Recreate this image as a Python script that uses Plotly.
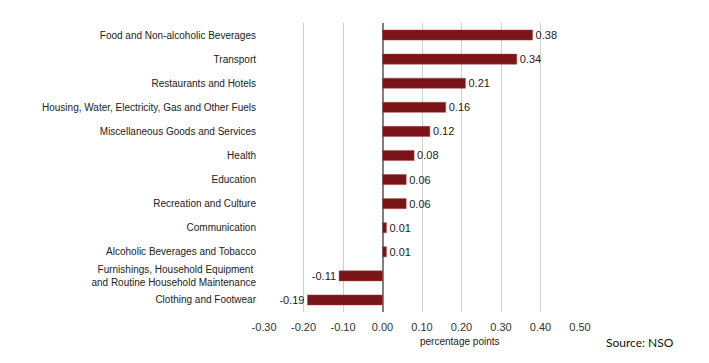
import plotly.graph_objects as go

categories = [
    "Food and Non-alcoholic Beverages",
    "Transport",
    "Restaurants and Hotels",
    "Housing, Water, Electricity, Gas and Other Fuels",
    "Miscellaneous Goods and Services",
    "Health",
    "Education",
    "Recreation and Culture",
    "Communication",
    "Alcoholic Beverages and Tobacco",
    "Furnishings, Household Equipment <br>and Routine Household Maintenance",
    "Clothing and Footwear",
]
values = [0.38, 0.34, 0.21, 0.16, 0.12, 0.08, 0.06, 0.06, 0.01, 0.01, -0.11, -0.19]
tick_vals = [-0.30, -0.20, -0.10, 0.00, 0.10, 0.20, 0.30, 0.40, 0.50]
tick_text = ["-0.30", "-0.20", "-0.10", "0.00", "0.10", "0.20", "0.30", "0.40", "0.50"]
labels = [f"{v:.2f}" for v in values]

FONT = "Liberation Sans"
L, R, T, B = 256, 129, 15, 51
W, H = 701, 355
PW, PH = W - L - R, H - T - B

fig = go.Figure(
    go.Bar(
        x=values,
        y=categories,
        orientation="h",
        marker=dict(color="#7a1517", line=dict(color="#a05050", width=0.5)),
        text=labels,
        textposition="outside",
        constraintext="none",
        textfont=dict(family=FONT, size=11, color="#222222"),
        cliponaxis=False,
    )
)

fig.update_layout(
    width=W,
    height=H,
    margin=dict(l=L, r=R, t=T, b=B, autoexpand=False),
    paper_bgcolor="white",
    plot_bgcolor="white",
    bargap=0.58,
    showlegend=False,
    font=dict(family=FONT, size=10, color="#222222"),
    xaxis=dict(
        range=[-0.3, 0.5],
        tickvals=tick_vals,
        ticktext=tick_text,
        automargin=False,
        showgrid=True,
        gridcolor="#d0d0d0",
        gridwidth=1,
        zeroline=True,
        zerolinecolor="#808080",
        zerolinewidth=2,
        showline=False,
        ticks="",
        ticklabelstandoff=7,
        tickfont=dict(family=FONT, size=11, color="#333333"),
    ),
    yaxis=dict(
        autorange="reversed",
        automargin=False,
        showgrid=False,
        showline=False,
        ticks="",
        ticklabelstandoff=7,
        tickfont=dict(family=FONT, size=10, color="#222222"),
    ),
    annotations=[
        dict(
            text="percentage points",
            x=(452 - L) / PW,
            y=-29 / PH,
            xref="paper", yref="paper",
            xanchor="center",
            yanchor="middle",
            showarrow=False,
            font=dict(family=FONT, size=10, color="#222222"),
        ),
        dict(
            text="Source: NSO",
            x=(632 - L) / PW,
            y=-30 / PH,
            xref="paper", yref="paper",
            xanchor="center",
            yanchor="middle",
            showarrow=False,
            font=dict(family="Lato", size=12, color="#111111"),
        ),
    ],
)

fig.write_html("out.html")
